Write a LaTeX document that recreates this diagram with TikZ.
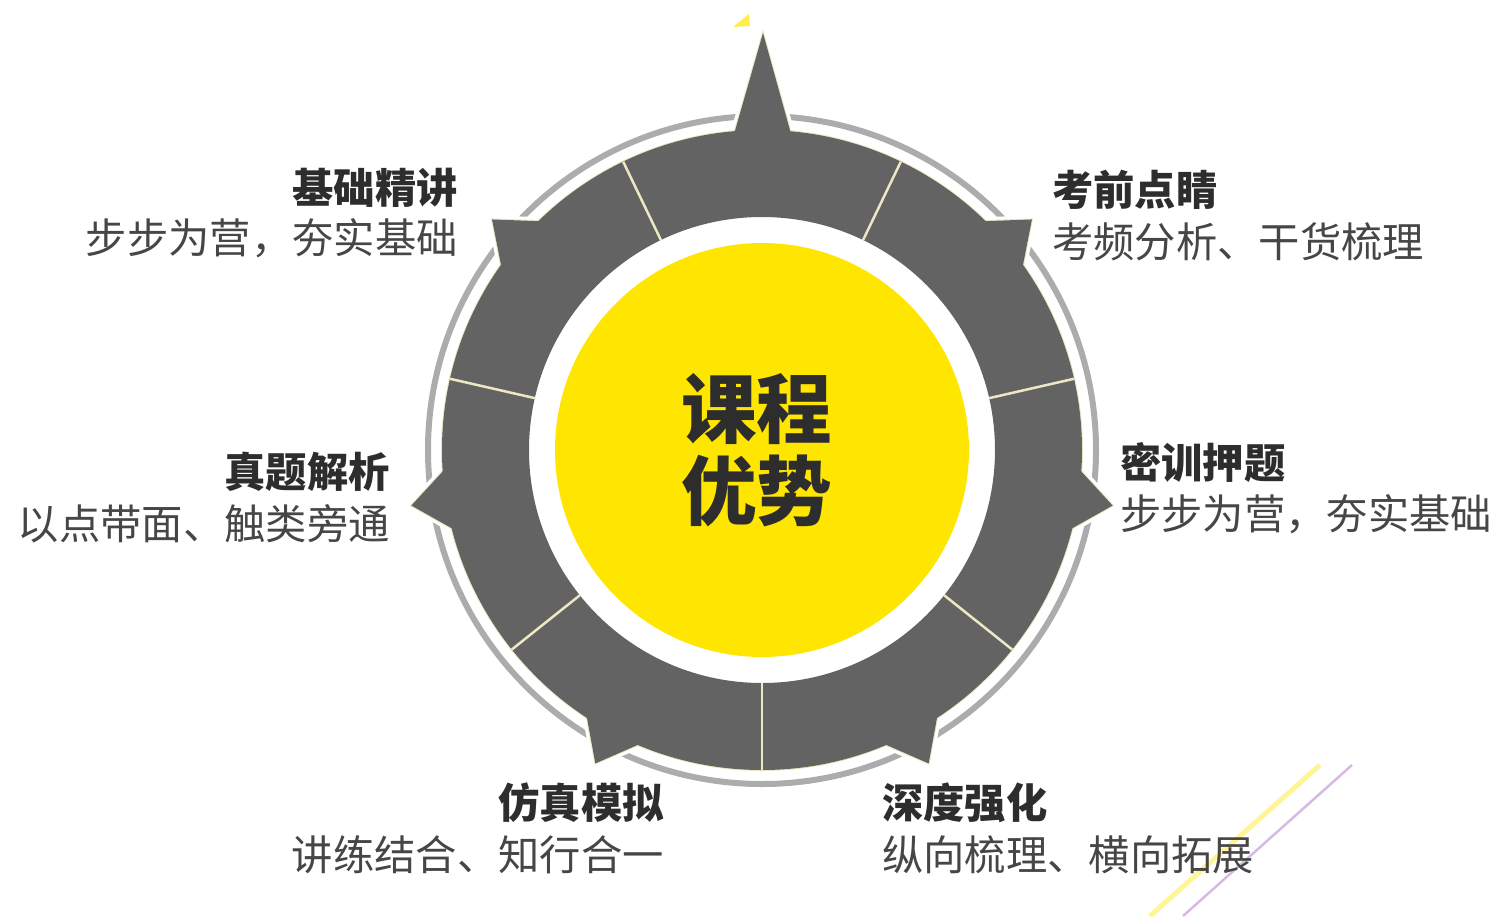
\documentclass[tikz,border=0pt]{standalone}
\usepackage{fontspec}
\newfontfamily\cjkfont{Noto Sans CJK SC}
\definecolor{ringgray}{RGB}{99,99,99}
\definecolor{rimgray}{RGB}{172,172,172}
\definecolor{seamcream}{RGB}{236,232,196}
\definecolor{hubyellow}{RGB}{255,230,0}
\definecolor{inkdark}{RGB}{45,45,45}
\definecolor{inksoft}{RGB}{70,70,70}
\definecolor{streakyellow}{RGB}{255,244,150}
\definecolor{streakpurple}{RGB}{214,186,226}
\tikzset{
  headline/.style={inner sep=0pt, text=inkdark, font=\cjkfont\bfseries\fontsize{23.5}{28}\selectfont},
  tagline/.style={inner sep=0pt, text=inksoft, font=\cjkfont\fontsize{23.5}{28}\selectfont},
  hubtext/.style={inner sep=0pt, align=center, text=inkdark, font=\cjkfont\bfseries\fontsize{43}{47}\selectfont},
  seam/.style={draw=seamcream, line width=0.05cm},
}
\begin{document}
\begin{tikzpicture}
                        \useasboundingbox (-15.240000,-9.320000) rectangle (14.840000,9.000000);
                        
                        % Drawing streaks in the corner
                        \draw [streakyellow, line width=0.100cm] (7.760000,-9.320000) -- (11.160000,-6.300000);%
                        \draw [streakpurple, line width=0.050cm] (8.420000,-9.320000) -- (11.800000,-6.300000);%
                        \fill [hubyellow!70] (-0.580000,8.460000) -- (-0.240000,8.480000) -- (-0.260000,8.720000) -- cycle;%
                        
                        % Drawing rim
                        \draw [rimgray, line width=0.120cm] (0,0) circle (6.680000);%
                        
                        % Cutting rim round teeth and spike
                        \foreach \a in {40.5,-9,-62,-118,189,139.5}
                          \draw [white, line width=0.160cm] (\a+5.5:6.360000) -- (\a:7.100000) -- (\a-5.5:6.360000);%
                        \draw [white, line width=0.160cm] (-0.650000,6.000000) -- (0.020000,8.340000) -- (0.670000,6.000000);%
                        
                        % Edging ring, teeth and spike
                        \draw [seamcream, line width=0.040cm] (0,0) circle (6.400000);%
                        \foreach \a in {40.5,-9,-62,-118,189,139.5}
                          \draw [seamcream, line width=0.040cm] (\a+5.5:6.360000) -- (\a:7.100000) -- (\a-5.5:6.360000);%
                        \draw [seamcream, line width=0.040cm] (-0.650000,6.000000) -- (0.020000,8.340000) -- (0.670000,6.000000);%
                        
                        % Filling ring, teeth and spike
                        \fill [ringgray, even odd rule] (0,0) circle (6.400000) (0,0) circle (4.660000);%
                        \foreach \a in {40.5,-9,-62,-118,189,139.5}
                          \fill [ringgray] (\a+5.5:6.360000) -- (\a:7.100000) -- (\a-5.5:6.360000) -- cycle;%
                        \fill [ringgray] (-0.650000,6.000000) -- (0.020000,8.340000) -- (0.670000,6.000000) -- cycle;%
                        
                        % Drawing seams between segments
                        \foreach \a in {115.71,64.29,12.86,-38.57,-90,-141.43,167.14}
                          \draw [seam] (\a:4.660000) -- (\a:6.400000);%
                        
                        % Drawing hub
                        \fill [hubyellow] (0,0) circle (4.140000);%
                        \node [hubtext] (hub) at (-0.100000,0.000000) {课程\\优势};%
                        
                        % Marking label jichu
                        \node [headline, anchor=east] (jichu) at (-6.080000,5.240000) {基础精讲};%
                        \node [tagline, anchor=east] (jichu-sub) at ([yshift=-1.000000cm]jichu.east) {步步为营，夯实基础};%
                        
                        % Marking label kaoqian
                        \node [headline, anchor=west] (kaoqian) at (5.800000,5.200000) {考前点睛};%
                        \node [tagline, anchor=west] (kaoqian-sub) at ([yshift=-1.040000cm]kaoqian.west) {考频分析、干货梳理};%
                        
                        % Marking label zhenti
                        \node [headline, anchor=east] (zhenti) at (-7.440000,-0.440000) {真题解析};%
                        \node [tagline, anchor=east] (zhenti-sub) at ([yshift=-1.040000cm]zhenti.east) {以点带面、触类旁通};%
                        
                        % Marking label mixun
                        \node [headline, anchor=west] (mixun) at (7.160000,-0.240000) {密训押题};%
                        \node [tagline, anchor=west] (mixun-sub) at ([yshift=-1.040000cm]mixun.west) {步步为营，夯实基础};%
                        
                        % Marking label fangzhen
                        \node [headline, anchor=east] (fangzhen) at (-1.960000,-7.060000) {仿真模拟};%
                        \node [tagline, anchor=east] (fangzhen-sub) at ([yshift=-1.040000cm]fangzhen.east) {讲练结合、知行合一};%
                        
                        % Marking label shendu
                        \node [headline, anchor=west] (shendu) at (2.400000,-7.060000) {深度强化};%
                        \node [tagline, anchor=west] (shendu-sub) at ([yshift=-1.040000cm]shendu.west) {纵向梳理、横向拓展};%
                        \end{tikzpicture}
\end{document}
